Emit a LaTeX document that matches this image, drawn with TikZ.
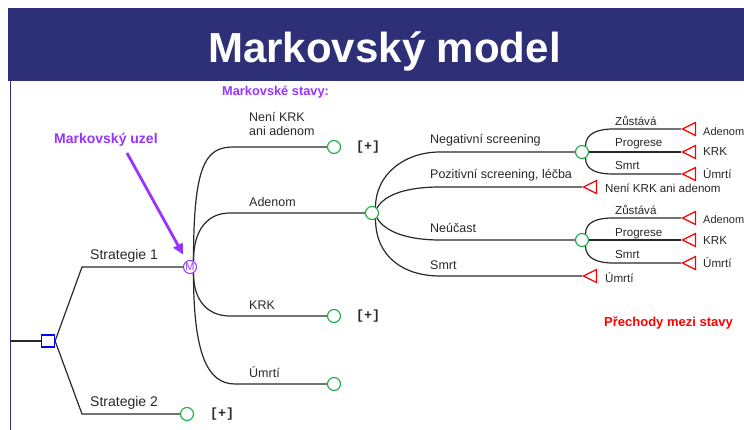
\documentclass[tikz,border=0pt]{standalone}
\usepackage{fontspec}
\setmainfont{Liberation Sans}
\newfontfamily\monofnt{Liberation Mono}
\usetikzlibrary{shapes.geometric,arrows.meta}
\definecolor{hlavicka}{RGB}{45,48,119}
\definecolor{fialova}{RGB}{153,51,255}
\definecolor{zelena}{RGB}{34,177,76}
\definecolor{cara}{RGB}{40,40,40}
\tikzset{
	vetev/.style={draw=cara, line width=1.2pt},
	nahoda/.style={circle, draw=zelena, line width=1.2pt, fill=white, minimum size=13pt, inner sep=0pt},
	konec/.style={isosceles triangle, isosceles triangle stretches, shape border rotate=180, draw=red, line width=1.2pt, fill=white, minimum width=13pt, minimum height=13pt, inner sep=0pt, anchor=apex},
	rozhod/.style={rectangle, draw=blue, line width=1.2pt, fill=white, minimum width=13pt, minimum height=12pt, inner sep=0pt},
	markov/.style={circle, draw=fialova, line width=1pt, fill=white, minimum size=13pt, inner sep=0pt, text=fialova, font=\fontsize{11}{11}\selectfont},
	popisA/.style={anchor=base west, inner sep=0pt, text=cara, font=\fontsize{14}{16}\selectfont},
	popisB/.style={anchor=base west, inner sep=0pt, text=cara, font=\fontsize{12.5}{14}\selectfont},
	popisC/.style={anchor=base west, inner sep=0pt, text=cara, font=\fontsize{11.6}{13}\selectfont},
	plus/.style={anchor=west, inner sep=0pt, text=cara, font=\monofnt\bfseries\fontsize{13.3}{14}\selectfont},
	upozorneni/.style={anchor=base west, inner sep=0pt, font=\bfseries\fontsize{14}{16}\selectfont}
}
\begin{document}
\begin{tikzpicture}[x=1pt, y=-1pt]
	% Rozměr obrázku
	\useasboundingbox (0,0) rectangle (744,430);
	\clip (0,0) rectangle (744,430);
	
	% Hlavička s nadpisem
	\fill[hlavicka] (8,8) rectangle (744,81);
	\draw[hlavicka, line width=1.5pt] (10.5,81) -- (10.5,430);
	\node[anchor=base, inner sep=0pt, text=white, font=\bfseries\fontsize{42}{48}\selectfont] (nadpis) at (384.5,63) {Markovský model};
	
	% Rozhodovací uzel a strategie
	\coordinate (start) at (10.5,341);
	\node[rozhod] (rozh) at (48,341) {};
	\node[markov] (mu) at (190,267) {M};
	\node[nahoda] (s2) at (187,414) {};
	\coordinate (z1) at (82,267);
	\coordinate (z2) at (82,414);
	\draw[vetev] (start) -- (rozh);
	\draw[vetev] (rozh.east) -- (z1) -- (mu);
	\draw[vetev] (rozh.east) -- (z2) -- (s2);
	\node[popisA] (l-s1) at (90,260) {Strategie 1};
	\node[popisA] (l-s2) at (90,406) {Strategie 2};
	\node[plus] (p-s2) at (210,414) {[+]};
	
	% Markovské stavy
	\node[nahoda] (ne) at (334,147) {};
	\node[nahoda] (ad) at (372,213) {};
	\node[nahoda] (krk) at (334,316) {};
	\node[nahoda] (um) at (334,384) {};
	\coordinate (b-ne) at (233,147);
	\coordinate (b-ad) at (230,213);
	\coordinate (b-krk) at (230,316);
	\coordinate (b-um) at (235,384);
	\draw[vetev] (mu.60) .. controls +(0,-95) and +(-28,0) .. (b-ne) -- (ne);
	\draw[vetev] (mu.60) .. controls +(0,-32) and +(-22,0) .. (b-ad) -- (ad);
	\draw[vetev] (mu.-60) .. controls +(0,28) and +(-22,0) .. (b-krk) -- (krk);
	\draw[vetev] (mu.-60) .. controls +(0,80) and +(-28,0) .. (b-um) -- (um);
	\node[popisB, anchor=north west, align=left] (l-ne) at (249,112) {Není KRK\\ani adenom};
	\node[popisB] (l-ad) at (249,207) {Adenom};
	\node[popisB] (l-krk) at (249,309) {KRK};
	\node[popisB] (l-um) at (249,377) {Úmrtí};
	\node[plus] (p-ne) at (356,147) {[+]};
	\node[plus] (p-krk) at (356,316) {[+]};
	
	% Popisky a šipka k Markovskému uzlu
	\node[upozorneni, text=fialova, font=\bfseries\fontsize{12.8}{14}\selectfont] (stavy) at (222,96) {Markovské stavy:};
	\node[upozorneni, text=fialova] (uzel) at (54,144) {Markovský uzel};
	\coordinate (sipka) at (127,153);
	\draw[fialova, line width=2.8pt, -{Triangle[length=11pt,width=10pt]}, shorten >=7pt] (sipka) -- (mu);
	
	% Přechody ze stavu Adenom
	\node[nahoda] (neg) at (582,152) {};
	\node[konec] (poz) at (582,187) {};
	\node[nahoda] (neu) at (582,240) {};
	\node[konec] (sm) at (582,276) {};
	\coordinate (b-neg) at (440,152);
	\coordinate (b-poz) at (440,187);
	\coordinate (b-neu) at (440,240);
	\coordinate (b-sm) at (440,276);
	\draw[vetev] (ad.60) .. controls +(0,-32) and +(-36,0) .. (b-neg) -- (neg);
	\draw[vetev] (ad.45) .. controls +(8,-14) and +(-32,0) .. (b-poz) -- (poz.apex);
	\draw[vetev] (ad.-45) .. controls +(8,14) and +(-32,0) .. (b-neu) -- (neu);
	\draw[vetev] (ad.-60) .. controls +(0,38) and +(-36,0) .. (b-sm) -- (sm.apex);
	\node[popisB] (l-neg) at (430,144) {Negativní screening};
	\node[popisB] (l-poz) at (430,179) {Pozitivní screening, léčba};
	\node[popisB] (l-neu) at (430,233) {Neúčast};
	\node[popisB] (l-sm) at (430,270) {Smrt};
	\node[popisC] (k-poz) at (605,193) {Není KRK ani adenom};
	\node[popisC] (k-sm) at (605,283) {Úmrtí};
	
	% Přechody po negativním screeningu
	\node[konec] (t1) at (681,129) {};
	\node[konec] (t2) at (681,152) {};
	\node[konec] (t3) at (681,174) {};
	\coordinate (b-t1) at (613,129);
	\coordinate (b-t3) at (613,174);
	\draw[vetev] (neg.60) .. controls +(0,-12) and +(-16,0) .. (b-t1) -- (t1.apex);
	\draw[vetev] (neg) -- (t2.apex);
	\draw[vetev] (neg.-60) .. controls +(0,12) and +(-16,0) .. (b-t3) -- (t3.apex);
	\node[popisC] (l-t1) at (615,126) {Zůstává};
	\node[popisC] (l-t2) at (615,147) {Progrese};
	\node[popisC] (l-t3) at (615,170) {Smrt};
	\node[popisC, font=\fontsize{11}{13}\selectfont] (k-t1) at (703,136) {Adenom};
	\node[popisC] (k-t2) at (703,156) {KRK};
	\node[popisC] (k-t3) at (703,179) {Úmrtí};
	
	% Přechody při neúčasti
	\node[konec] (u1) at (681,218) {};
	\node[konec] (u2) at (681,240) {};
	\node[konec] (u3) at (681,263) {};
	\coordinate (b-u1) at (613,218);
	\coordinate (b-u3) at (613,263);
	\draw[vetev] (neu.60) .. controls +(0,-12) and +(-16,0) .. (b-u1) -- (u1.apex);
	\draw[vetev] (neu) -- (u2.apex);
	\draw[vetev] (neu.-60) .. controls +(0,12) and +(-16,0) .. (b-u3) -- (u3.apex);
	\node[popisC] (l-u1) at (615,215) {Zůstává};
	\node[popisC] (l-u2) at (615,237) {Progrese};
	\node[popisC] (l-u3) at (615,259) {Smrt};
	\node[popisC, font=\fontsize{11}{13}\selectfont] (k-u1) at (703,224) {Adenom};
	\node[popisC] (k-u2) at (703,245) {KRK};
	\node[popisC] (k-u3) at (703,268) {Úmrtí};
	
	% Poznámka
	\node[upozorneni, text=red, font=\bfseries\fontsize{13}{15}\selectfont] (prechody) at (604,326) {Přechody mezi stavy};
\end{tikzpicture}
\end{document}
